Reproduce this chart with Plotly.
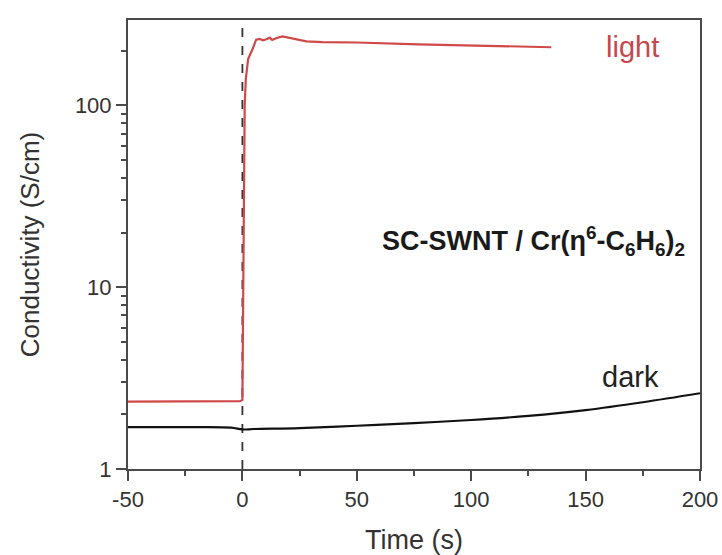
import math
import plotly.graph_objects as go

# light curve (red)
light_t = [-50, -20, -1, 0, 0.2, 0.4, 0.6, 1.0, 1.5, 2.5, 4.5, 6, 7.5, 9, 10.5, 12, 13, 15, 17.5, 20, 22, 25, 28, 35, 50, 77, 100, 135]
light_v = [2.35, 2.35, 2.36, 2.4, 5, 20, 50, 100, 140, 180, 205, 230, 232, 228, 231, 236, 229, 235, 240, 236, 235, 229, 225, 223, 222, 217, 214, 209]

# dark curve (black)
dark_t = [-50, -25, -5, 0, 5, 25, 50, 75, 100, 125, 150, 175, 200]
dark_v = [1.70, 1.70, 1.69, 1.65, 1.66, 1.68, 1.73, 1.79, 1.86, 1.96, 2.11, 2.33, 2.61]

x_major = [-50, 0, 50, 100, 150, 200]
x_labels = ["-50", "0", "50", "100", "150", "200"]
x_minor = [-25, 25, 75, 125, 175]
y_major = [1, 10, 100]
y_labels = ["1", "10", "100"]
y_minor = [2, 3, 4, 5, 6, 7, 8, 9, 20, 30, 40, 50, 60, 70, 80, 90, 200]

font_family = "Liberation Sans"
axis_col = "#4a4a4a"
text_col = "#333333"

fig = go.Figure()
fig.add_trace(go.Scatter(x=[0, 0], y=[1, 300], mode="lines",
                         line=dict(color="#333333", width=1.8, dash="dash"),
                         showlegend=False, hoverinfo="skip"))
fig.add_trace(go.Scatter(x=dark_t, y=dark_v, mode="lines",
                         line=dict(color="#111111", width=2.2, shape="spline"),
                         showlegend=False))
fig.add_trace(go.Scatter(x=light_t, y=light_v, mode="lines",
                         line=dict(color="#d04848", width=2.2),
                         showlegend=False))

# annotation positions on a log axis are given in log10 units
fig.add_annotation(x=158, y=math.log10(209), xref="x", yref="y", text="light", showarrow=False,
                   xanchor="left", yanchor="middle",
                   font=dict(size=29, color="#c8464b", family=font_family))
fig.add_annotation(x=169.5, y=math.log10(3.2), xref="x", yref="y", text="dark", showarrow=False,
                   xanchor="center", yanchor="middle",
                   font=dict(size=29, color="#222222", family=font_family))
fig.add_annotation(x=194.5, y=math.log10(18.0), xref="x", yref="y",
                   text="<b>SC-SWNT / Cr(η<sup>6</sup>-C<sub>6</sub>H<sub>6</sub>)<sub>2</sub></b>",
                   showarrow=False, xanchor="right", yanchor="middle",
                   font=dict(size=27, color="#1a1a1a", family=font_family))

fig.update_xaxes(range=[-50, 200], tickvals=x_major, ticktext=x_labels, ticks="outside",
                 ticklen=10, tickwidth=2, tickcolor=axis_col, automargin=False,
                 showline=True, linecolor=axis_col, linewidth=2, mirror=True,
                 showgrid=False, zeroline=False,
                 minor=dict(tickvals=x_minor, ticks="outside", ticklen=5, tickwidth=2, tickcolor=axis_col),
                 tickfont=dict(size=22, color=text_col, family=font_family),
                 title=dict(text="Time (s)", font=dict(size=27, color=text_col, family=font_family), standoff=20))
fig.update_yaxes(type="log", range=[0, 2.47], tickvals=y_major, ticktext=y_labels,
                 ticks="outside", ticklen=10, tickwidth=2, tickcolor=axis_col, automargin=False,
                 showline=True, linecolor=axis_col, linewidth=2, mirror=True,
                 showgrid=False, zeroline=False,
                 minor=dict(tickvals=y_minor, ticks="outside", ticklen=5, tickwidth=2, tickcolor=axis_col),
                 tickfont=dict(size=22, color=text_col, family=font_family),
                 title=dict(text="Conductivity (S/cm)", font=dict(size=26, color=text_col, family=font_family), standoff=28))

fig.update_layout(width=722, height=555, margin=dict(l=128, r=22, t=20, b=86),
                  plot_bgcolor="white", paper_bgcolor="white", showlegend=False)

fig.write_html("out.html", config={"displayModeBar": False},
               post_script="document.body.style.margin='0';document.body.style.overflow='hidden';")
